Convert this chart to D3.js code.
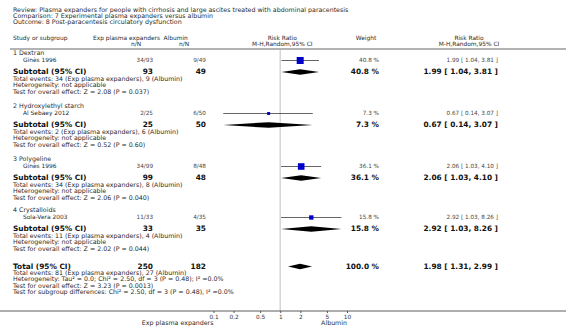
<!DOCTYPE html>
<html>
<head>
<meta charset="utf-8">
<script src="https://cdn.jsdelivr.net/npm/d3@7"></script>
<style>
  html, body { margin: 0; padding: 0; background: #fff; }
  #chart { width: 566px; height: 328px; }
  text { font-family: "DejaVu Sans", Verdana, sans-serif; }
</style>
</head>
<body>
<div id="chart"></div>
<script>
const titleLines = [
  "Review:  Plasma expanders for people with cirrhosis and large ascites treated with abdominal paracentesis",
  "Comparison:  7 Experimental plasma expanders versus albumin",
  "Outcome:  8 Post-paracentesis circulatory dysfunction"
];
const groups = ["1 Dextran", "2 Hydroxylethyl starch", "3 Polygeline", "4 Crystalloids"];
const studies = ["Ginès 1996", "Al Sebaey 2012", "Ginès 1996", "Sola-Vera 2003"];
const expEvents = ["34/93", "2/25", "34/99", "11/33"];
const albEvents = ["9/49", "6/50", "8/48", "4/35"];
const expTotals = [93, 25, 99, 33];
const albTotals = [49, 50, 48, 35];
const weights = [40.8, 7.3, 36.1, 15.8];
const rr = [1.99, 0.67, 2.06, 2.92];
const lo = [1.04, 0.14, 1.03, 1.03];
const hi = [3.81, 3.07, 4.10, 8.26];
const expEv = [34, 2, 34, 11];
const albEv = [9, 6, 8, 4];
const zTests = ["Z = 2.08 (P = 0.037)", "Z = 0.52 (P = 0.60)", "Z = 2.06 (P = 0.040)", "Z = 2.02 (P = 0.044)"];
const total = { exp: 250, alb: 182, expEv: 81, albEv: 27, rr: 1.98, lo: 1.31, hi: 2.99, weight: 100.0 };
const totalNotes = [
  "Total events: 81 (Exp plasma expanders), 27 (Albumin)",
  "Heterogeneity: Tau\u00b2 = 0.0; Chi\u00b2 = 2.50, df = 3 (P = 0.48); I\u00b2 =0.0%",
  "Test for overall effect: Z = 3.23 (P = 0.0013)",
  "Test for subgroup differences: Chi\u00b2 = 2.50, df = 3 (P = 0.48), I\u00b2 =0.0%"
];
const ticks = [0.1, 0.2, 0.5, 1, 2, 5, 10];

function draw() {
  const W = 566, H = 328;
  const svg = d3.select("#chart").append("svg")
    .attr("width", W).attr("height", H)
    .attr("viewBox", `0 0 ${W} ${H}`);

  const x = d3.scaleLog().domain([0.1, 10]).range([213.5, 347]);
  const fmt2 = d3.format(".2f");
  const ci = (r, l, h) => `${fmt2(r)} [ ${fmt2(l)}, ${fmt2(h)} ]`;
  const FS = 6.3;
  const HS = 5.9; // header size
  const small = { size: 5.7, color: "#444" };
  const bold = { size: 7.4, color: "#111", weight: "bold" };

  function txt(s, tx, ty, o = {}) {
    return svg.append("text")
      .attr("x", tx).attr("y", ty)
      .attr("dominant-baseline", "middle")
      .attr("text-anchor", o.anchor || "start")
      .attr("font-size", o.size || FS)
      .attr("font-weight", o.weight || "normal")
      .attr("fill", o.color || "#2a2a2a")
      .text(s);
  }

  // title block
  titleLines.forEach((t, i) => txt(t, 13, 10 + i * 6.3));

  // column headers
  txt("Study or subgroup", 13, 38, { size: HS });
  txt("Exp plasma expanders", 93, 38, { size: HS });
  txt("Albumin", 163.5, 38, { size: HS });
  txt("n/N", 136, 44, { size: HS, anchor: "middle" });
  txt("n/N", 184, 44, { size: HS, anchor: "middle" });
  txt("Risk Ratio", x(1) + 2, 38, { size: HS, anchor: "middle" });
  txt("M-H,Random,95% CI", x(1) + 2, 44, { size: HS, anchor: "middle" });
  txt("Weight", 366, 38, { size: HS, anchor: "middle" });
  txt("Risk Ratio", 469, 38, { size: HS, anchor: "middle" });
  txt("M-H,Random,95% CI", 469, 44, { size: HS, anchor: "middle" });

  svg.append("line")
    .attr("x1", 10).attr("x2", W).attr("y1", 49).attr("y2", 49)
    .attr("stroke", "#9a9a9a").attr("stroke-width", 1.6);

  // null line
  svg.append("line")
    .attr("x1", x(1)).attr("x2", x(1)).attr("y1", 50).attr("y2", 311)
    .attr("stroke", "#d6d6d6").attr("stroke-width", 1.5);

  const gy = [53, 106, 159, 210];
  const sqScale = d3.scaleSqrt().domain([0, 40.8]).range([0, 7]);

  function diamond(r, l, h, yc) {
    const hh = 2.8;
    svg.append("path")
      .attr("d", `M${x(l)},${yc} L${x(r)},${yc - hh} L${x(h)},${yc} L${x(r)},${yc + hh} Z`)
      .attr("fill", "#000");
  }

  groups.forEach((g, i) => {
    const y0 = gy[i];
    const ys = y0 + 7.5, ysub = y0 + 19;
    txt(g, 13, y0);
    txt(studies[i], 23, ys, { size: 5.9 });
    txt(expEvents[i], 153, ys, { ...small, anchor: "end" });
    txt(albEvents[i], 206, ys, { ...small, anchor: "end" });
    txt(weights[i].toFixed(1) + " %", 379, ys, { ...small, anchor: "end" });
    txt(ci(rr[i], lo[i], hi[i]), 498, ys, { ...small, anchor: "end" });

    // study CI and square
    svg.append("line")
      .attr("x1", x(lo[i])).attr("x2", x(hi[i])).attr("y1", ys).attr("y2", ys)
      .attr("stroke", "#222").attr("stroke-width", 0.7);
    const s = sqScale(weights[i]);
    svg.append("rect")
      .attr("x", x(rr[i]) - s / 2).attr("y", ys - s / 2)
      .attr("width", s).attr("height", s)
      .attr("fill", "#0000cc");

    // subtotal
    txt("Subtotal (95% CI)", 13, ysub, bold);
    txt(expTotals[i], 153, ysub, { ...bold, anchor: "end" });
    txt(albTotals[i], 206, ysub, { ...bold, anchor: "end" });
    txt(weights[i].toFixed(1) + " %", 379, ysub, { ...bold, anchor: "end" });
    txt(ci(rr[i], lo[i], hi[i]), 498, ysub, { ...bold, anchor: "end" });
    diamond(rr[i], lo[i], hi[i], ysub);

    txt(`Total events: ${expEv[i]} (Exp plasma expanders), ${albEv[i]} (Albumin)`, 13, y0 + 26);
    txt("Heterogeneity: not applicable", 13, y0 + 32.5);
    txt("Test for overall effect: " + zTests[i], 13, y0 + 39);
  });

  // overall total
  const ty = 266.5;
  txt("Total (95% CI)", 13, ty, bold);
  txt(total.exp, 153, ty, { ...bold, anchor: "end" });
  txt(total.alb, 206, ty, { ...bold, anchor: "end" });
  txt(total.weight.toFixed(1) + " %", 379, ty, { ...bold, anchor: "end" });
  txt(ci(total.rr, total.lo, total.hi), 498, ty, { ...bold, anchor: "end" });
  diamond(total.rr, total.lo, total.hi, ty);
  totalNotes.forEach((t, i) => txt(t, 13, 273.3 + i * 6.3));

  // axis
  const axisY = 311;
  svg.append("line")
    .attr("x1", 0).attr("x2", W).attr("y1", axisY).attr("y2", axisY)
    .attr("stroke", "#333").attr("stroke-width", 0.8);
  const ax = svg.append("g").attr("transform", `translate(0,${axisY})`)
    .call(d3.axisBottom(x).tickValues(ticks).tickFormat(d3.format("~g")).tickSize(2).tickSizeOuter(0));
  ax.select(".domain").remove();
  ax.selectAll("text").attr("font-size", 5.8).attr("fill", "#333").attr("y", 3.5)
    .attr("font-family", "DejaVu Sans, Verdana, sans-serif");
  ax.selectAll("line").attr("stroke", "#555");

  txt("Exp plasma expanders", x(0.1), 323, { anchor: "end" });
  txt("Albumin", x(10), 323, { anchor: "end" });
}

draw();
</script>
</body>
</html>
